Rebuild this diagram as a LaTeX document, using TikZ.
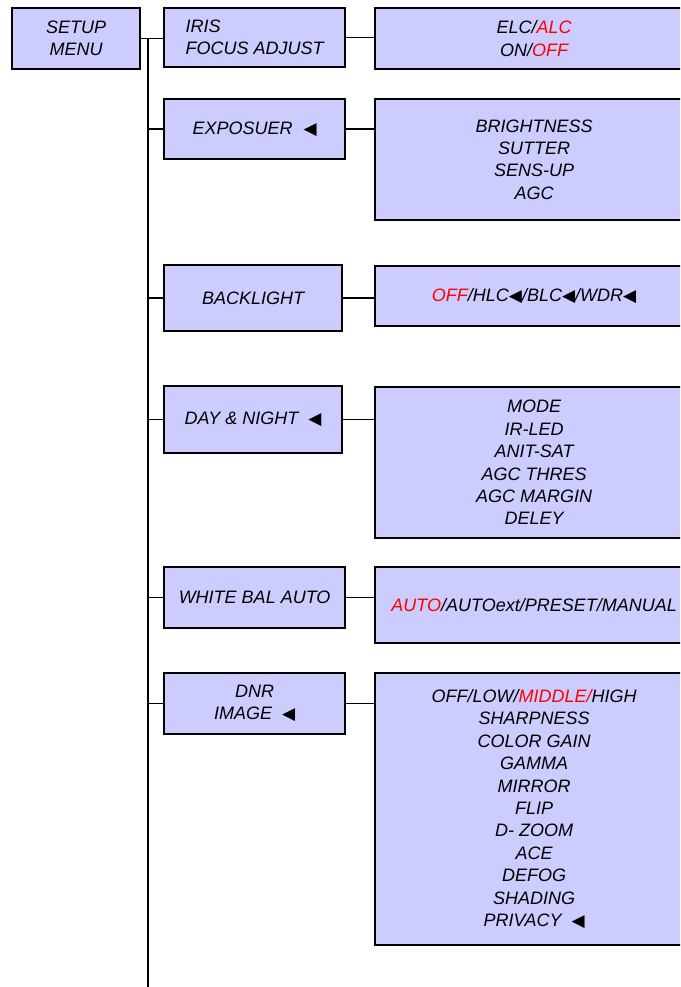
\documentclass[tikz,border=0pt]{standalone}
\usepackage{fontspec}
\setmainfont{Liberation Sans}
\newfontfamily\symfont{DejaVu Sans}
\usetikzlibrary{positioning}
\definecolor{menufill}{RGB}{204,204,255}
\newcommand{\tri}{{\symfont\upshape\fontsize{17}{17}\selectfont ◀}}
\newcommand{\sel}[1]{\textcolor{red}{#1}}

\begin{document}
\begin{tikzpicture}[
        x=1pt, y=-1pt,
        menubox/.style={
            draw,
            line width=2.2pt,
            fill=menufill,
            anchor=north west,
            align=center,
            inner sep=0pt,
            font=\fontsize{18}{22.4}\selectfont\itshape
        },
        mainbox/.style={
            menubox,
            minimum width=181pt
        },
        subbox/.style={
            menubox,
            minimum width=318pt
        },
        link/.style={
            line width=1.4pt
        }
    ]

        \clip (0,0) rectangle (680,987);

        \node[menubox, minimum width=128pt, minimum height=61pt] (setup) at (11,7)
            {SETUP\\MENU};

        \node[mainbox, align=left, minimum height=59pt] (iris) at (163,7)
            {IRIS\\FOCUS ADJUST};
        \node[subbox, minimum height=61pt] (iris-sub) at (374,7)
            {ELC/\sel{ALC}\\ON/\sel{OFF}};

        \node[mainbox, minimum height=60pt] (expo) at (163,98)
            {EXPOSUER\hspace{11pt}\tri};
        \node[subbox, minimum height=121pt] (expo-sub) at (374,98)
            {BRIGHTNESS\\SUTTER\\SENS-UP\\AGC};

        \node[mainbox, minimum width=178pt, minimum height=66pt] (back) at (163,264)
            {BACKLIGHT};
        \node[subbox, minimum height=60pt] (back-sub) at (374,265)
            {\sel{OFF}/HLC\tri/BLC\tri/WDR\tri};

        \node[mainbox, minimum width=178pt, minimum height=67pt] (day) at (163,385)
            {DAY \& NIGHT\hspace{10pt}\tri};
        \node[subbox, minimum height=151pt] (day-sub) at (374,386)
            {MODE\\IR-LED\\ANIT-SAT\\AGC THRES\\AGC MARGIN\\DELEY};

        \node[mainbox, minimum height=61pt] (white) at (163,566)
            {WHITE BAL AUTO};
        \node[subbox, minimum height=76pt] (white-sub) at (374,566)
            {\sel{AUTO}/AUTOext/PRESET/MANUAL};

        \node[mainbox, minimum height=61pt] (dnr) at (163,672)
            {DNR\\IMAGE\hspace{10pt}\tri};
        \node[subbox, minimum height=272pt] (dnr-sub) at (374,672)
            {OFF/LOW/\sel{MIDDLE/}HIGH\\SHARPNESS\\COLOR GAIN\\GAMMA\\MIRROR\\FLIP\\%
             D- ZOOM\\ACE\\DEFOG\\SHADING\\PRIVACY\hspace{10pt}\tri};

        % trunk and branches
        \coordinate (trunk) at (148,38);
        \coordinate (trunk-end) at (148,987);
        \draw[link] (setup.east) -- (setup.east -| iris.west);
        \draw[link] (trunk) -- (trunk-end);
        \draw[link] (iris.east) -- (iris.east -| iris-sub.west);
        \foreach \entry in {expo,back,day,white,dnr} {
            \draw[link] (trunk |- \entry.west) -- (\entry.west);
            \draw[link] (\entry.east) -- (\entry.east -| \entry-sub.west);
        }

    \end{tikzpicture}
\end{document}
